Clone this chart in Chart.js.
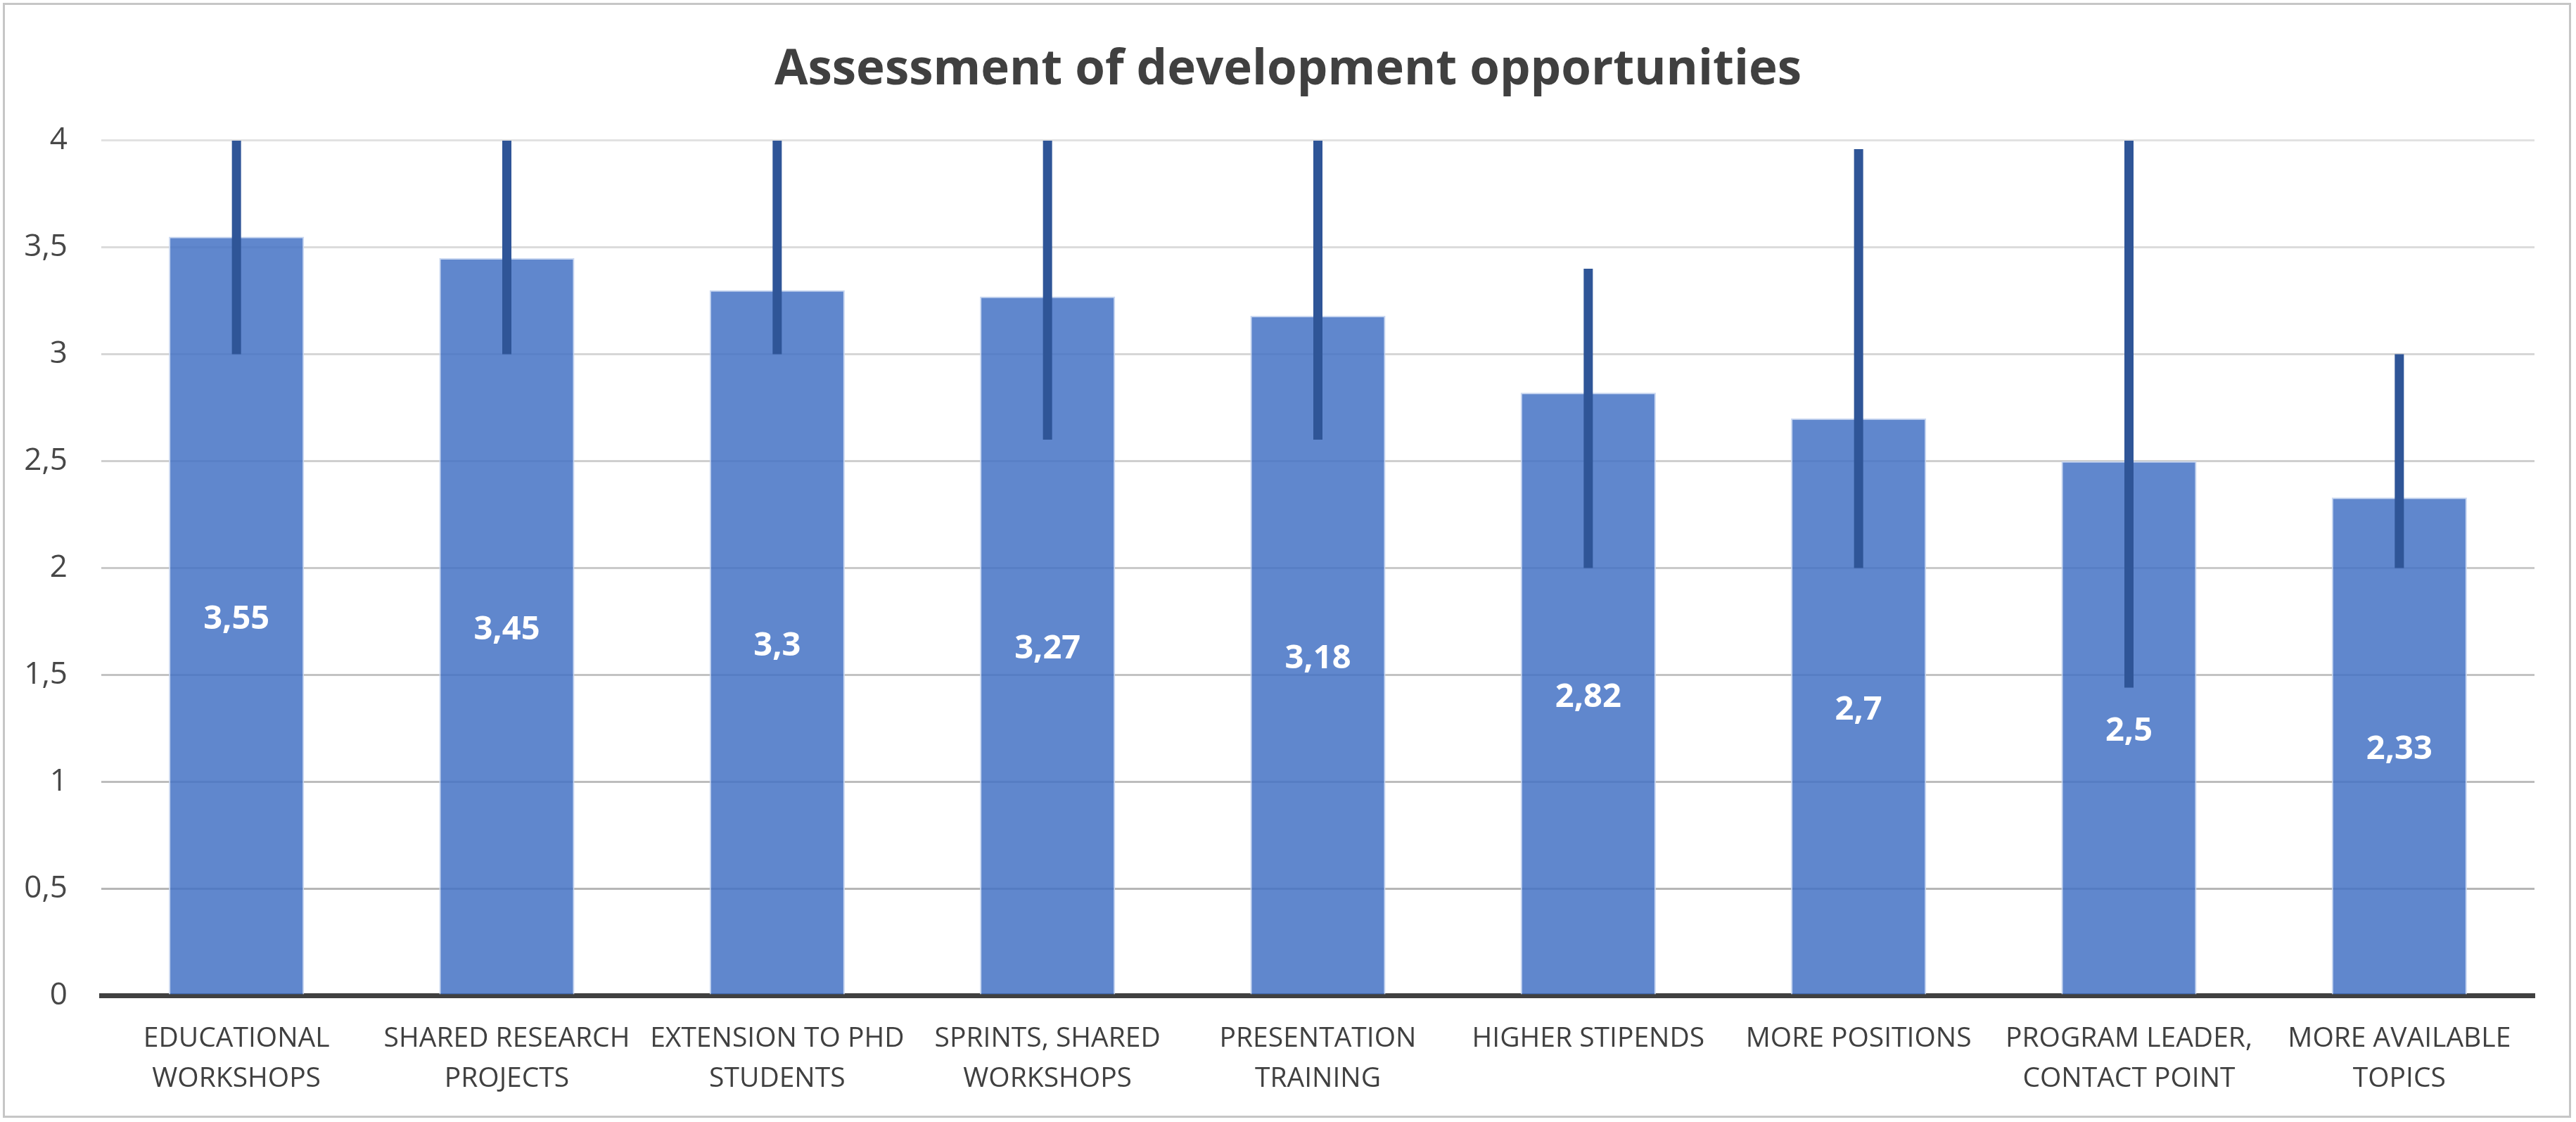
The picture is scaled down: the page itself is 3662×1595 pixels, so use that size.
<!DOCTYPE html>
<html>
<head>
<meta charset="utf-8">
<script src="https://cdn.jsdelivr.net/npm/chart.js@4.4.1/dist/chart.umd.min.js"></script>
<style>
html,body{margin:0;padding:0;background:#fff;}
#wrap{position:relative;width:3662px;height:1595px;overflow:hidden;}
#c{position:absolute;left:0;top:0;width:3662px;height:1595px;}
#frame{position:absolute;left:4px;top:4px;width:3645px;height:1579px;border:3px solid #c6c6c6;pointer-events:none;}
</style>
</head>
<body>
<div id="wrap"><canvas id="c" width="3662" height="1595"></canvas><div id="frame"></div></div>
<script>
// ---- data ----
const chartTitle = 'Assessment of development opportunities';
const categories = [
  ['EDUCATIONAL', 'WORKSHOPS'],
  ['SHARED RESEARCH', 'PROJECTS'],
  ['EXTENSION TO PHD', 'STUDENTS'],
  ['SPRINTS, SHARED', 'WORKSHOPS'],
  ['PRESENTATION', 'TRAINING'],
  ['HIGHER STIPENDS'],
  ['MORE POSITIONS'],
  ['PROGRAM LEADER,', 'CONTACT POINT'],
  ['MORE AVAILABLE', 'TOPICS']
];
const means   = [3.55, 3.45, 3.3, 3.27, 3.18, 2.82, 2.7, 2.5, 2.33];
const errLow  = [3.0, 3.0, 3.0, 2.6, 2.6, 2.0, 2.0, 1.44, 2.0];
const errHigh = [4.0, 4.0, 4.0, 4.0, 4.0, 3.4, 3.96, 4.0, 3.0];
const yTickLabels = ['0', '0,5', '1', '1,5', '2', '2,5', '3', '3,5', '4'];

const FONT = '"Open Sans"';
const fmt = v => String(v).replace('.', ',');

const errorBarsPlugin = {
  id: 'errorBars',
  afterDatasetsDraw(chart) {
    const {ctx, chartArea, scales} = chart;
    const y = scales.y;
    const meta = chart.getDatasetMeta(0);
    ctx.save();
    ctx.beginPath();
    ctx.rect(chartArea.left, chartArea.top, chartArea.right - chartArea.left, chartArea.bottom - chartArea.top);
    ctx.clip();
    ctx.strokeStyle = '#2f5597';
    ctx.lineWidth = 13;
    ctx.lineCap = 'butt';
    meta.data.forEach((bar, i) => {
      ctx.beginPath();
      ctx.moveTo(bar.x, y.getPixelForValue(errLow[i]));
      ctx.lineTo(bar.x, y.getPixelForValue(errHigh[i]));
      ctx.stroke();
    });
    ctx.restore();
  }
};

const valueLabelsPlugin = {
  id: 'valueLabels',
  afterDatasetsDraw(chart) {
    const {ctx} = chart;
    const meta = chart.getDatasetMeta(0);
    const size = 47;
    ctx.save();
    ctx.fillStyle = '#ffffff';
    ctx.font = 'bold ' + size + 'px ' + FONT;
    ctx.textAlign = 'center';
    ctx.textBaseline = 'alphabetic';
    meta.data.forEach((bar, i) => {
      ctx.fillText(fmt(means[i]), bar.x, (bar.y + bar.base) / 2 + 0.357 * size + 2);
    });
    ctx.restore();
  }
};

function gridColor(ctx) {
  const v = ctx.tick ? ctx.tick.value : 0;
  const g = Math.round(176 + 12.5 * v);
  return `rgb(${g},${g},${g})`;
}

new Chart(document.getElementById('c'), {
  type: 'bar',
  data: {
    labels: categories,
    datasets: [{
      data: means,
      backgroundColor: 'rgba(68,114,196,0.85)',
      borderColor: 'rgba(196,212,240,0.9)',
      borderWidth: 2,
      barPercentage: 0.5,
      categoryPercentage: 1.0
    }]
  },
  options: {
    responsive: false,
    devicePixelRatio: 1,
    animation: false,
    layout: { padding: { left: 0, right: 0, top: 0, bottom: 0 } },
    plugins: {
      legend: { display: false },
      tooltip: { enabled: false },
      title: {
        display: true,
        text: chartTitle,
        color: '#404040',
        font: { family: FONT, size: 69, weight: 'bold', lineHeight: 1.2 },
        padding: { top: 59, bottom: 58 }
      }
    },
    scales: {
      x: {
        z: 1,
        grid: { display: false, drawTicks: false },
        border: { display: true, color: '#404040', width: 7 },
        ticks: {
          color: '#404040',
          font: { family: FONT, size: 39, lineHeight: 1.46 },
          padding: 33,
          maxRotation: 0,
          autoSkip: false
        },
        afterFit(scale) { scale.height = 180; }
      },
      y: {
        min: 0,
        max: 4,
        grid: { color: gridColor, lineWidth: 3, drawTicks: false },
        border: { display: false },
        ticks: {
          stepSize: 0.5,
          color: '#474747',
          font: { family: FONT, size: 44 },
          padding: 48,
          callback: (value, index) => yTickLabels[index]
        },
        afterFit(scale) { scale.width = 144; }
      },
      yRightSpace: {
        type: 'linear',
        position: 'right',
        display: true,
        grid: { display: false, drawTicks: false },
        border: { display: false },
        ticks: { display: false },
        afterFit(scale) { scale.width = 59; }
      }
    }
  },
  plugins: [errorBarsPlugin, valueLabelsPlugin]
});
</script>
</body>
</html>
